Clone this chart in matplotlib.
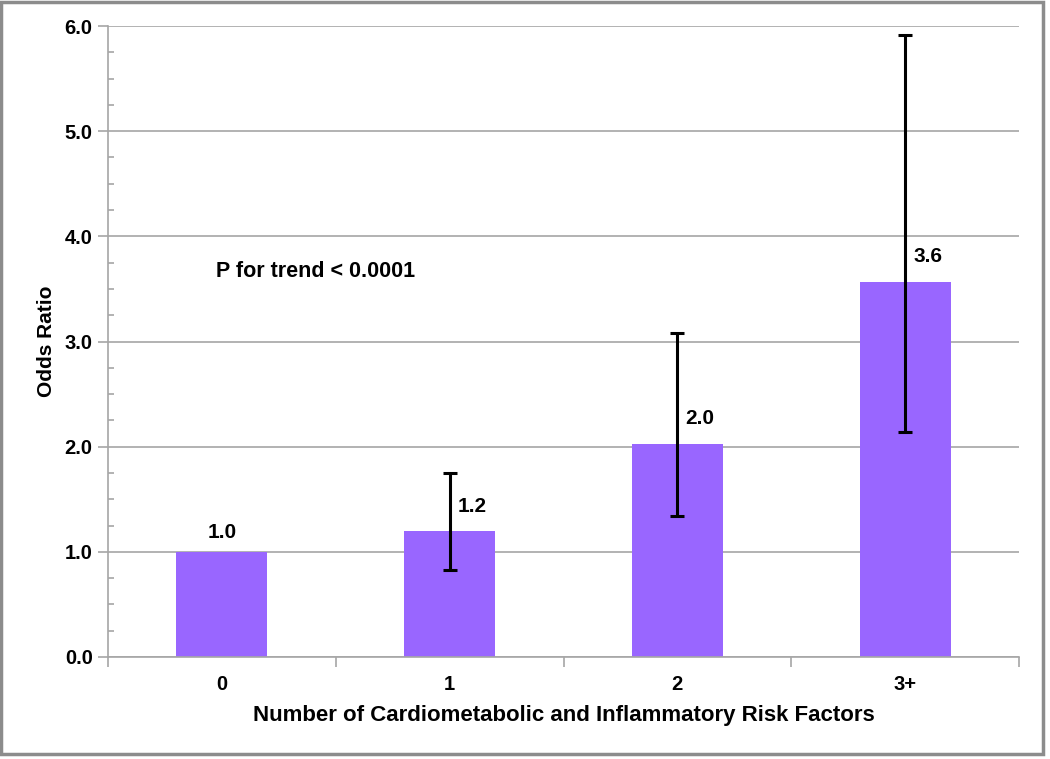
import matplotlib
matplotlib.use("Agg")
import matplotlib.pyplot as plt
from matplotlib.ticker import MultipleLocator
from matplotlib.patches import Rectangle

categories = ["0", "1", "2", "3+"]
odds_ratio = [1.0, 1.20, 2.03, 3.57]
ci_lower = [None, 0.83, 1.34, 2.14]
ci_upper = [None, 1.75, 3.08, 5.91]
value_labels = ["1.0", "1.2", "2.0", "3.6"]
yticks = [0.0, 1.0, 2.0, 3.0, 4.0, 5.0, 6.0]

plt.rcParams['font.family'] = ['Liberation Sans', 'DejaVu Sans']
plt.rcParams['font.weight'] = 'bold'

fig = plt.figure(figsize=(10.5, 7.59), dpi=100)
ax = fig.add_axes([108/1050, 1-657/759, (1019-108)/1050, (657-26)/759])

x = list(range(len(categories)))
ax.bar(x, odds_ratio, width=0.4, color='#9966FF', zorder=2)

for i in x:
    if ci_lower[i] is not None:
        ax.errorbar(i, odds_ratio[i],
                    yerr=[[odds_ratio[i]-ci_lower[i]], [ci_upper[i]-odds_ratio[i]]],
                    fmt='none', ecolor='black', elinewidth=2.2, capsize=5, capthick=2.2, zorder=3)

for i in x:
    if ci_lower[i] is None:
        ax.annotate(value_labels[i], (i, odds_ratio[i]), xytext=(0, 7), textcoords='offset points',
                    ha='center', va='bottom', fontsize=15, fontweight='bold')
    else:
        ax.annotate(value_labels[i], (i, odds_ratio[i]), xytext=(6, 11), textcoords='offset points',
                    ha='left', va='bottom', fontsize=15, fontweight='bold')

ax.set_xlim(-0.5, 3.5)
ax.set_ylim(0, 6.0)
ax.set_yticks(yticks)
ax.set_yticklabels([f"{v:.1f}" for v in yticks], fontsize=14.5, fontweight='bold')
ax.yaxis.set_minor_locator(MultipleLocator(0.25))
ax.yaxis.grid(True, which='major', color='#A6A6A6', linewidth=1.2, zorder=0)
ax.set_axisbelow(True)

ax.set_xticks([-0.5, 0.5, 1.5, 2.5, 3.5])
ax.set_xticklabels([])
ax.set_xticks(x, minor=True)
ax.set_xticklabels(categories, minor=True, fontsize=14.5, fontweight='bold')
ax.tick_params(axis='x', which='major', direction='out', length=7, color='#A6A6A6', width=1.2)
ax.tick_params(axis='x', which='minor', length=0, pad=13)
ax.tick_params(axis='y', which='major', direction='out', length=7, color='#A6A6A6', width=1.2, pad=4)
ax.tick_params(axis='y', which='minor', direction='in', length=4, color='#A6A6A6', width=1.2)

for s in ['top', 'right']:
    ax.spines[s].set_visible(False)
for s in ['left', 'bottom']:
    ax.spines[s].set_color('#A6A6A6')
    ax.spines[s].set_linewidth(1.2)

ax.set_xlabel("Number of Cardiometabolic and Inflammatory Risk Factors", fontsize=16, fontweight='bold', labelpad=8)
ax.set_ylabel("Odds Ratio", fontsize=15, fontweight='bold', labelpad=6)

ax.text(-0.025, 3.67, "P for trend < 0.0001", fontsize=15.5, fontweight='bold', ha='left', va='center')

fig.patches.append(Rectangle((0.001, 0.007), 0.992, 0.991, transform=fig.transFigure,
                             fill=False, edgecolor='#8C8C8C', linewidth=2.5))

fig.savefig("out.png", dpi=100)
